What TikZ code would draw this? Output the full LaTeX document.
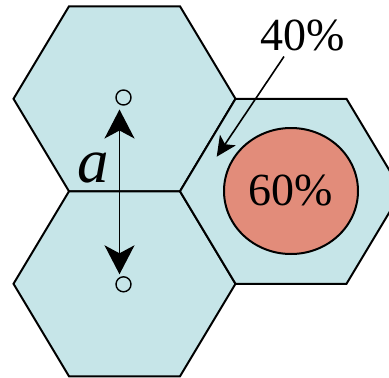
\documentclass[tikz,border=0pt]{standalone}
\usepackage{fontspec}
\setmainfont{Liberation Serif}
\usetikzlibrary{arrows.meta,shapes.geometric,calc}
\definecolor{hexfill}{HTML}{C6E5E8}
\definecolor{corefill}{HTML}{E28C7A}
\begin{document}
\begin{tikzpicture}[x=1pt,y=-1pt,
  hexcell/.style={draw=black,line width=2pt,fill=hexfill,line join=miter},
  dotc/.style={circle,draw=black,line width=1.4pt,fill=hexfill,minimum size=15pt,inner sep=0pt},
  pct/.style={font=\fontsize{46}{50}\selectfont,inner sep=0pt},
  dimarrow/.style={line width=1.5pt,{Stealth[length=29pt,width=30pt,inset=8pt]}-{Stealth[length=29pt,width=30pt,inset=8pt]}},
  ptrarrow/.style={line width=1.6pt,-{Stealth[length=20pt,width=19pt,inset=5pt]}}]
\useasboundingbox (0,0) rectangle (389,378);
\clip (0,0) rectangle (389,378);
\foreach \cx/\cy in {124.5/98.8,124.5/283.8,291/191.3}
  \draw[hexcell] (\cx-111,\cy) -- (\cx-55.5,\cy-92.5) -- (\cx+55.5,\cy-92.5)
     -- (\cx+111,\cy) -- (\cx+55.5,\cy+92.5) -- (\cx-55.5,\cy+92.5) -- cycle;
\node[ellipse,draw=black,line width=2pt,fill=corefill,minimum width=134pt,minimum height=126pt,inner sep=0pt,font=\fontsize{46}{50}\selectfont] (core) at (291,191) {60\%};
\node[dotc] (c1) at (123.5,97.5) {};
\node[dotc] (c2) at (123.5,284.3) {};
\coordinate (up) at (119.5,109.5);
\coordinate (dn) at (119.5,274.3);
\draw[dimarrow] (up) -- (dn);
\node[font=\fontsize{63}{70}\selectfont\itshape,inner sep=0pt] (alab) at (93,167.5) {a};
\node[pct] (t40) at (302.5,36) {40\%};
\coordinate (tip) at (216.7,156.7);
\draw[ptrarrow] ([xshift=-18.5pt,yshift=-4.7pt]t40.south) -- (tip);
\end{tikzpicture}
\end{document}
